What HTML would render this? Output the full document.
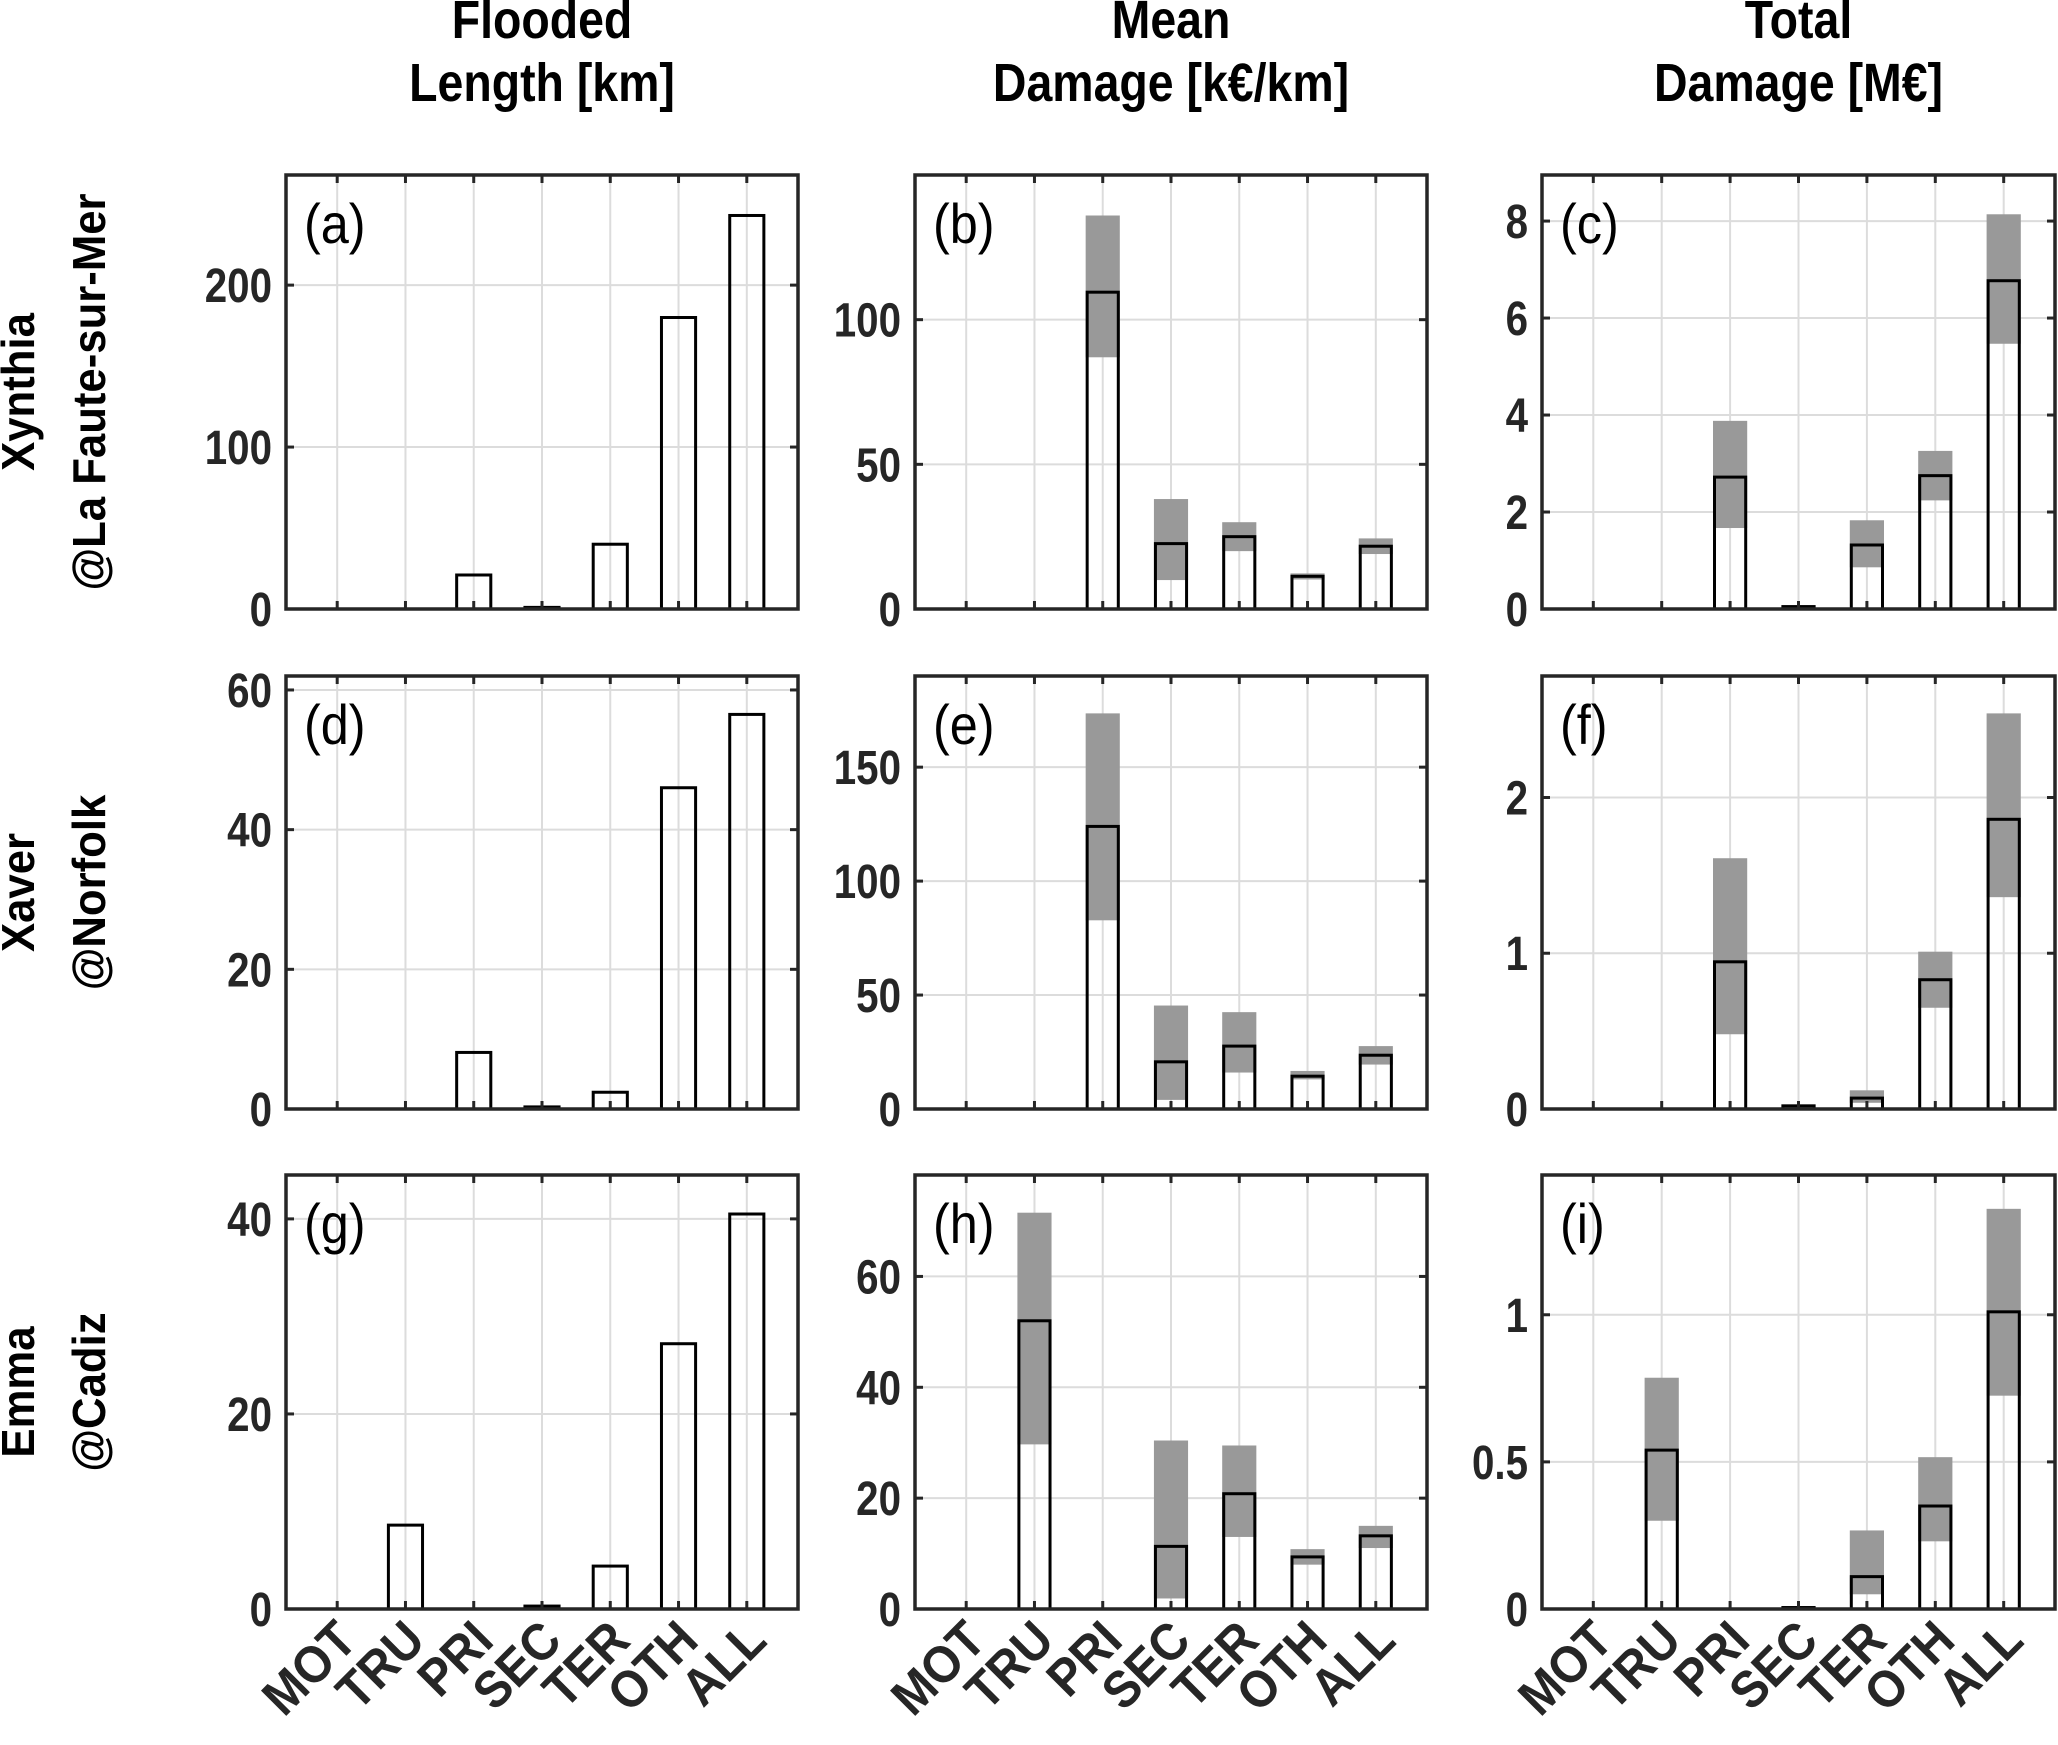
<!DOCTYPE html>
<html><head><meta charset="utf-8"><style>
body{margin:0;background:#fff}
svg text{font-family:"Liberation Sans",Arial,sans-serif}
</style></head><body>
<svg id="fig" xmlns="http://www.w3.org/2000/svg" width="2058" height="1740" viewBox="0 0 2058 1740"></svg>
<script>
const categories=["MOT","TRU","PRI","SEC","TER","OTH","ALL"];
const colTitles1=["Flooded","Mean","Total"];
const colTitles2=["Length [km]","Damage [k\u20ac/km]","Damage [M\u20ac]"];
const rowTitles1=["Xynthia","Xaver","Emma"];
const rowTitles2=["@La Faute-sur-Mer","@Norfolk","@Cadiz"];
const panelLabels=["(a)","(b)","(c)","(d)","(e)","(f)","(g)","(h)","(i)"];
const yMax=[268,150,8.95,62,190,2.78,44.5,78.3,1.475];
const yTicks=[[0,100,200],[0,50,100],[0,2,4,6,8],[0,20,40,60],[0,50,100,150],[0,1,2],[0,20,40],[0,20,40,60],[0,0.5,1]];
// flooded length (single bars)
const lenA=[0,0,21,1,40,180,243];
const lenD=[0,0,8.1,0.3,2.4,46,56.5];
const lenG=[0,8.6,0,0.3,4.4,27.2,40.5];
// damage: mid (outlined), low, high (gray range)
const midB=[0,0,109.5,22.6,25,11.3,21.7], lowB=[0,0,87,10,20,10.2,19], highB=[0,0,136,38,30,12.3,24.4];
const midC=[0,0,2.72,0.05,1.32,2.75,6.77], lowC=[0,0,1.67,0.03,0.86,2.24,5.47], highC=[0,0,3.88,0.07,1.83,3.26,8.14];
const midE=[0,0,124,20.7,27.6,14.4,23.6], lowE=[0,0,82.8,4,16,13,19.5], highE=[0,0,173.6,45.4,42.5,16.7,27.6];
const midF=[0,0,0.945,0.02,0.07,0.83,1.86], lowF=[0,0,0.48,0.01,0.04,0.65,1.36], highF=[0,0,1.61,0.03,0.12,1.01,2.54];
const midH=[0,52,0,11.3,20.8,9.4,13.2], lowH=[0,29.7,0,1.9,13,8,11], highH=[0,71.5,0,30.4,29.5,10.8,15];
const midI=[0,0.54,0,0.005,0.11,0.35,1.01], lowI=[0,0.3,0,0.003,0.05,0.23,0.725], highI=[0,0.786,0,0.008,0.267,0.516,1.36];

const lens=[lenA,lenD,lenG];
const dmg={1:[midB,lowB,highB],2:[midC,lowC,highC],4:[midE,lowE,highE],5:[midF,lowF,highF],7:[midH,lowH,highH],8:[midI,lowI,highI]};

const NS="http://www.w3.org/2000/svg";
const svg=document.getElementById('fig');
function mk(tag,attrs,parent){const e=document.createElementNS(NS,tag);for(const k in attrs)e.setAttribute(k,attrs[k]);(parent||svg).appendChild(e);return e;}
const PX=[[286,798],[915,1427],[1542,2055]];
const PY=[[175,609],[676,1109],[1175,1609]];

for(let c=0;c<3;c++){
  const cx=(PX[c][0]+PX[c][1])/2;
  let t=mk('text',{x:0,y:0,'text-anchor':'middle','font-size':54,'font-weight':'bold',fill:'#000',transform:`translate(${cx},38) scale(0.86,1)`});t.textContent=colTitles1[c];
  
  
  t=mk('text',{x:0,y:0,'text-anchor':'middle','font-size':54,'font-weight':'bold',fill:'#000',transform:`translate(${cx},101) scale(0.86,1)`});t.textContent=colTitles2[c];
  
  
}
for(let r=0;r<3;r++){
  const cy=(PY[r][0]+PY[r][1])/2;
  let t=mk('text',{x:0,y:0,'text-anchor':'middle','font-size':46,'font-weight':'bold',fill:'#000',transform:`translate(34,${cy}) rotate(-90) scale(0.95,1)`});t.textContent=rowTitles1[r];
  
  
  t=mk('text',{x:0,y:0,'text-anchor':'middle','font-size':46,'font-weight':'bold',fill:'#000',transform:`translate(105,${cy}) rotate(-90) scale(0.95,1)`});t.textContent=rowTitles2[r];
  
  
}

for(let r=0;r<3;r++)for(let c=0;c<3;c++){
  const p=r*3+c;
  const [x0,x1]=PX[c],[y0,y1]=PY[r];
  const g=mk('g',{});
  
  
  const xs=i=>x0+(i+1-0.25)/7.5*(x1-x0);
  const ys=v=>y1-v/yMax[p]*(y1-y0);
  const bw=0.5/7.5*(x1-x0);
  for(let i=0;i<7;i++){const l=mk('line',{x1:xs(i),x2:xs(i),y1:y0,y2:y1,stroke:'#dcdcdc','stroke-width':2},g);
    
    }
  yTicks[p].forEach(v=>{const l=mk('line',{x1:x0,x2:x1,y1:ys(v),y2:ys(v),stroke:'#dcdcdc','stroke-width':2},g);
    
    });
  if(c===0){
    const d=lens[r];
    d.forEach((v,i)=>{const b=mk('rect',{x:xs(i)-bw/2,y:ys(v),width:bw,height:ys(0)-ys(v),fill:'none',stroke:'#000','stroke-width':3},g);
      
      });
  } else {
    const [mid,low,high]=dmg[p];
    categories.forEach((cat,i)=>{
      const rg=mk('rect',{x:xs(i)-bw/2,y:ys(high[i]),width:bw,height:Math.max(0,ys(low[i])-ys(high[i])),fill:'#999'},g);
      
      
      const b=mk('rect',{x:xs(i)-bw/2+1.5,y:ys(mid[i]),width:bw-3,height:ys(0)-ys(mid[i]),fill:'none',stroke:'#000','stroke-width':3},g);
      
      
    });
  }
  const bx=mk('rect',{x:x0,y:y0,width:x1-x0,height:y1-y0,fill:'none',stroke:'#262626','stroke-width':3.5},g);
  
  
  for(let i=0;i<7;i++){
    mk('line',{x1:xs(i),x2:xs(i),y1:y1,y2:y1-8,stroke:'#262626','stroke-width':3},g);
    mk('line',{x1:xs(i),x2:xs(i),y1:y0,y2:y0+8,stroke:'#262626','stroke-width':3},g);
  }
  yTicks[p].forEach(v=>{
    mk('line',{x1:x0,x2:x0+8,y1:ys(v),y2:ys(v),stroke:'#262626','stroke-width':3},g);
    mk('line',{x1:x1,x2:x1-8,y1:ys(v),y2:ys(v),stroke:'#262626','stroke-width':3},g);
    const t=mk('text',{x:0,y:0,'text-anchor':'end','font-size':48,'font-weight':'bold',fill:'#262626',transform:`translate(${x0-14},${ys(v)+17}) scale(0.84,1)`},g);
    t.textContent=String(v);
    
    
  });
  const pl=mk('text',{x:0,y:0,'font-size':56,fill:'#000',transform:`translate(${x0+18},${y0+68}) scale(0.9,1)`},g);
  pl.textContent=panelLabels[p];
  
  
  if(r===2){
    categories.forEach((cat,i)=>{
      const t=mk('text',{x:0,y:0,'text-anchor':'end','font-size':52,'font-weight':'bold',fill:'#262626',transform:`translate(${xs(i)+22},${y1+34}) rotate(-45) scale(0.92,1)`},g);
      t.textContent=cat;
      
      
    });
  }
}
</script>
</body></html>
